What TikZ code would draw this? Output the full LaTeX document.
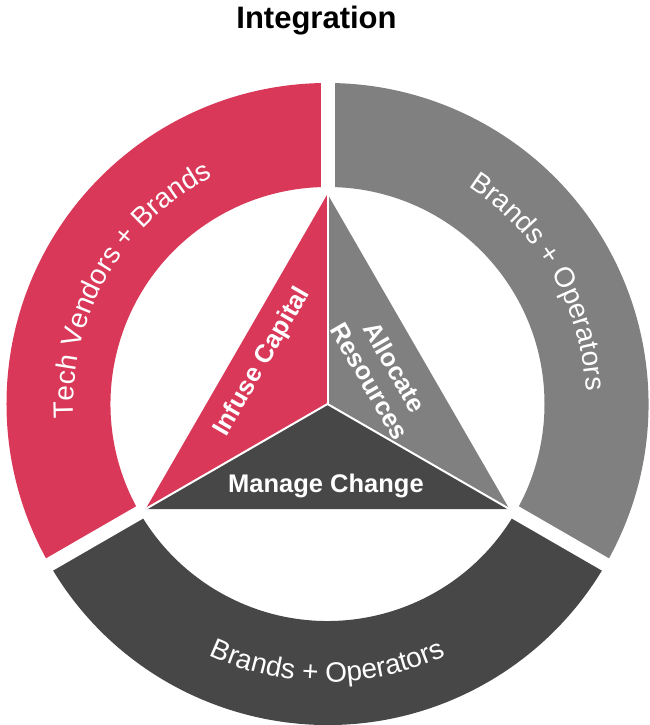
\documentclass[tikz,border=0pt]{standalone}
\usepackage{fontspec}
\setmainfont{Liberation Sans}
\usetikzlibrary{decorations.text}
\definecolor{ringred}{RGB}{217,56,88}
\definecolor{ringgray}{RGB}{128,128,128}
\definecolor{ringdark}{RGB}{71,71,71}
\begin{document}
\begin{tikzpicture}[x=1pt,y=1pt,
  gapline/.style={white, line width=14pt},
  sepline/.style={white, line width=2pt},
  tri/.style={font=\bfseries\fontsize{25.5}{28.5}\selectfont, text=white, align=center, inner sep=0pt},
  arctext/.style={decorate, decoration={text along path, text align=center, text color=white, text={|\fontsize{28}{33}\selectfont|#1}}}
]
\useasboundingbox (-327.5,-321) rectangle (321.5,404);
% title
\node[font=\bfseries\fontsize{31}{36}\selectfont, anchor=base, inner sep=0pt] (title) at (-11,375) {Integration};
% ring segments
\fill[ringred] (90:321) arc[start angle=90,end angle=210,radius=321] -- (210:217) arc[start angle=210,end angle=90,radius=217] -- cycle;
\fill[ringgray] (-30:321) arc[start angle=-30,end angle=90,radius=321] -- (90:217) arc[start angle=90,end angle=-30,radius=217] -- cycle;
\fill[ringdark] (210:321) arc[start angle=210,end angle=330,radius=321] -- (330:217) arc[start angle=330,end angle=210,radius=217] -- cycle;
% gaps
\coordinate (g1a) at (90:213); \coordinate (g1b) at (90:330);
\coordinate (g2a) at (210:213); \coordinate (g2b) at (210:330);
\coordinate (g3a) at (330:213); \coordinate (g3b) at (330:330);
\draw[gapline] (g1a) -- (g1b);
\draw[gapline] (g2a) -- (g2b);
\draw[gapline] (g3a) -- (g3b);
% ring texts
\path[arctext={Tech Vendors + Brands}] (205:254) arc[start angle=205,end angle=95,radius=254];
\path[arctext={Brands + Operators}] (85:259) arc[start angle=85,end angle=-25,radius=259];
\path[arctext={Brands + Operators}] (215:278) arc[start angle=215,end angle=325,radius=278];
% triangle
\coordinate (C) at (0,0);
\coordinate (T) at (90:210);
\coordinate (L) at (210:210);
\coordinate (R) at (330:210);
\fill[ringred] (C) -- (T) -- (L) -- cycle;
\fill[ringgray] (C) -- (T) -- (R) -- cycle;
\fill[ringdark] (C) -- (L) -- (R) -- cycle;
\draw[sepline] (C) -- (T);
\draw[sepline] (C) -- (L);
\draw[sepline] (C) -- (R);
\node[tri, rotate=60] (infuse) at (-65,42) {Infuse Capital};
\node[tri, rotate=-60] (alloc) at (55,30) {Allocate\\Resources};
\node[tri, anchor=base] (manage) at (-1.5,-88) {Manage Change};
\end{tikzpicture}
\end{document}
